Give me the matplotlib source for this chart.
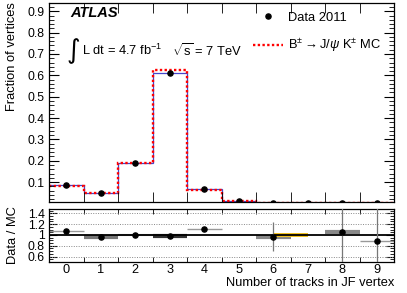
import numpy as np
import matplotlib
matplotlib.use("Agg")
import matplotlib.pyplot as plt
from matplotlib.lines import Line2D
from matplotlib.ticker import MultipleLocator

plt.rcParams['font.family'] = ['Liberation Sans', 'DejaVu Sans']
plt.rcParams['mathtext.fontset'] = 'custom'
plt.rcParams['mathtext.rm'] = 'Liberation Sans'
plt.rcParams['mathtext.it'] = 'Liberation Sans:italic'

# values
n_tracks = np.arange(10)
edges = np.arange(-0.5, 10.0, 1.0)
data_frac = [0.087, 0.049, 0.188, 0.612, 0.066, 0.013, 0.003, 0.002, 0.0015, 0.001]
mc_frac = [0.080, 0.049, 0.190, 0.627, 0.061, 0.012, 0.003, 0.002, 0.0015, 0.001]

ratio = [1.08, 0.97, 1.00, 0.98, 1.11, np.nan, 0.97, np.nan, 1.05, 0.88]
ratio_yerr = [0.01, 0.01, 0.01, 0.005, 0.02, 0.0, 0.27, 0.0, 1.0, 1.0]
ratio_xband = [1.0, 3.0, 1.5, 3.0, 1.0, 0.0, 3.0, 0.0, 3.0, 1.0]
ratio_xcol = ['#999999', '#777777', '#999999', '#333333', '#999999',
              '#999999', '#888888', '#999999', '#888888', '#999999']
yellow_x = [6.0, 7.0]
yellow_lo = [0.96, 0.96]
yellow_hi = [1.03, 1.03]

fs = 8.8
lfs = 9.3
fig = plt.figure(figsize=(4.07, 2.93), dpi=100)
ax = fig.add_axes([0.1204, 0.3106, 0.848, 0.6802])
rx = fig.add_axes([0.1204, 0.1058, 0.848, 0.1809])

# main panel
ax.stairs(data_frac, edges, baseline=None, color='#4444cc', lw=0.9)
ax.stairs(mc_frac, edges, baseline=None, color='red', lw=1.7, ls=(0, (1, 1)))
ax.plot(n_tracks, data_frac, 'o', color='black', ms=3.7, zorder=5)
ax.set_xlim(-0.5, 9.5)
ax.set_ylim(0.007, 0.94)
ax.yaxis.set_minor_locator(MultipleLocator(0.02))
ax.set_yticks(np.arange(0.1, 0.95, 0.1))
ax.set_yticklabels(['%.1f' % v for v in np.arange(0.1, 0.95, 0.1)])
ax.set_xticks(edges, minor=True)
ax.set_xticks([])
ax.tick_params(axis='y', which='both', direction='in', right=True, labelsize=fs, pad=3)
ax.tick_params(axis='y', which='major', length=7)
ax.tick_params(axis='y', which='minor', length=3.5)
ax.tick_params(axis='x', which='minor', direction='in', top=True, length=7)

ax.text(0.061, 0.948, 'ATLAS', transform=ax.transAxes, fontsize=10.5,
        fontweight='bold', fontstyle='italic', va='center')
ax.text(0.052, 0.755, '\u222b', transform=ax.transAxes, fontsize=19,
        family=['DejaVu Sans'], va='center')
ax.text(0.095, 0.762, r'L dt = 4.7 fb$^{-1}$', transform=ax.transAxes,
        fontsize=lfs, va='center')
ax.text(0.355, 0.762, r'$\sqrt{\rm s}$ = 7 TeV', transform=ax.transAxes,
        fontsize=lfs, va='center')

handles = [Line2D([], [], marker='o', color='black', ls='none', ms=3.7),
           Line2D([], [], color='red', lw=1.7, ls=(0, (1, 1)))]
ax.legend(handles, ['Data 2011', r'B$^{\pm}$$\rightarrow$J/$\psi$ K$^{\pm}$ MC'],
          loc='upper left', bbox_to_anchor=(0.591, 0.955), frameon=False,
          fontsize=lfs, borderpad=0, borderaxespad=0, handlelength=2.3,
          handletextpad=0.4, labelspacing=1.0)

# ratio panel
for y in [0.6, 0.8, 1.2, 1.4]:
    rx.axhline(y, color='#888888', lw=0.7, ls=(0, (1, 1.5)))
rx.hlines(ratio, edges[:-1], edges[1:], colors=ratio_xcol, linewidths=ratio_xband)
rx.fill_between(yellow_x, yellow_lo, yellow_hi, color='#f0c020', lw=0, zorder=3)
rx.axhline(1.0, color='black', lw=1.3, zorder=4)
rx.errorbar(n_tracks, ratio, yerr=ratio_yerr, fmt='o', color='black', ms=3.7,
            ecolor='#777777', elinewidth=0.9, capsize=0, zorder=5)
rx.set_xlim(-0.5, 9.5)
rx.set_ylim(0.5, 1.48)
rx.set_yticks([0.6, 0.8, 1.0, 1.2, 1.4])
rx.set_yticklabels(['0.6', '0.8', '1', '1.2', '1.4'])
rx.yaxis.set_minor_locator(MultipleLocator(0.05))
rx.set_xticks(n_tracks)
rx.set_xticklabels([str(i) for i in n_tracks])
rx.set_xticks(edges, minor=True)
rx.tick_params(axis='y', which='both', direction='in', right=True, labelsize=fs, pad=3)
rx.tick_params(axis='y', which='major', length=6)
rx.tick_params(axis='y', which='minor', length=3)
rx.tick_params(axis='x', which='major', length=0, labelsize=fs + 0.4, pad=1.5)
rx.tick_params(axis='x', which='minor', direction='in', top=True, length=3.5)

for a in (ax, rx):
    for s in a.spines.values():
        s.set_linewidth(0.9)

fig.text(12 / 407, 1 - 2 / 293, 'Fraction of vertices', rotation=90,
         ha='center', va='top', fontsize=lfs)
fig.text(13 / 407, 1 - 235 / 293, 'Data / MC', rotation=90,
         ha='center', va='center', fontsize=lfs)
fig.text(394 / 407, 1 - 283 / 293, 'Number of tracks in JF vertex',
         ha='right', va='center', fontsize=lfs)

fig.savefig('out.png', dpi=100)
